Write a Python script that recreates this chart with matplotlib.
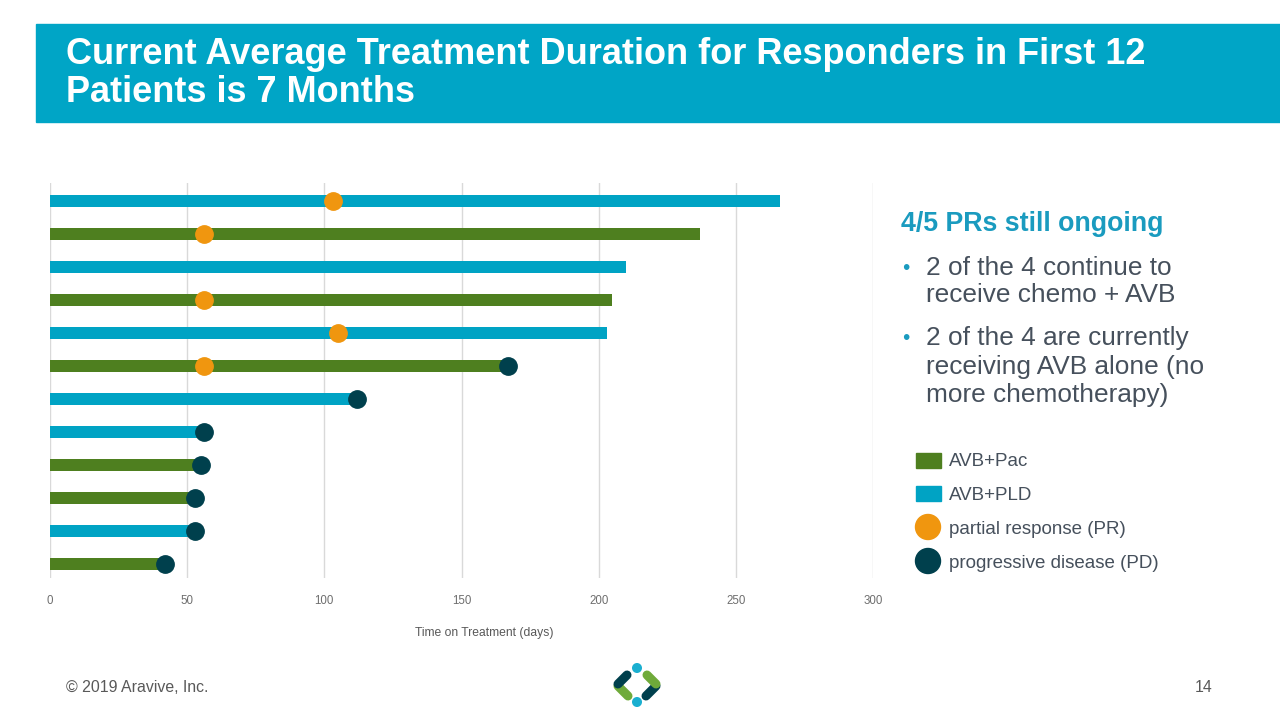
import matplotlib
matplotlib.use("Agg")
import matplotlib.pyplot as plt
from matplotlib.patches import Rectangle, Circle, Ellipse
import numpy as np

plt.rcParams['font.family'] = ['Liberation Sans', 'DejaVu Sans']

# ---------------- data (top bar first) ----------------
arms = ['PLD', 'Pac', 'PLD', 'Pac', 'PLD', 'Pac',
        'PLD', 'PLD', 'Pac', 'Pac', 'PLD', 'Pac']
days = [266, 237, 210, 205, 203, 167, 112, 56, 55, 53, 53, 42]
pr_day = [103, 56, None, 56, 105, 56, None, None, None, None, None, None]
pd_day = [None, None, None, None, None, 167, 112, 56, 55, 53, 53, 42]
xticks = [0, 50, 100, 150, 200, 250, 300]

PLD_C = '#00A3C4'
PAC_C = '#4E7F1F'
PR_C = '#F0960F'
PD_C = '#00404D'
TEAL = '#00A5C6'
TXT = '#46505C'

fig = plt.figure(figsize=(12.8, 7.2), dpi=100)

# ---------------- title bar ----------------
fig.patches.append(Rectangle((36 / 1280, 1 - 122 / 720), 1 - 36 / 1280, 98 / 720,
                             transform=fig.transFigure, color=TEAL, zorder=0))
fig.text(66 / 1280, 1 - 54 / 720, 'Current Average Treatment Duration for Responders in First 12',
         color='white', fontsize=26, fontweight='bold', va='center')
fig.text(66 / 1280, 1 - 93 / 720, 'Patients is 7 Months',
         color='white', fontsize=26, fontweight='bold', va='center')

# ---------------- chart ----------------
ax = fig.add_axes([50 / 1280, 1 - 578 / 720, 823 / 1280, 395 / 720])
rows = np.arange(len(days))
colors = [PLD_C if a == 'PLD' else PAC_C for a in arms]
ax.barh(rows, days, height=0.36, color=colors, zorder=2)
for i in rows:
    if pr_day[i] is not None:
        ax.plot(pr_day[i], i, 'o', color=PR_C, markersize=12.5, zorder=3)
    if pd_day[i] is not None:
        ax.plot(pd_day[i], i, 'o', color=PD_C, markersize=12.5, zorder=3)

ax.set_xlim(0, 300)
ax.set_ylim(11.42, -0.545)
ax.set_xticks(xticks)
ax.set_yticks([])
ax.grid(axis='x', color='#D9D9D9', linewidth=1, zorder=0)
for s in ax.spines.values():
    s.set_visible(False)
ax.tick_params(axis='x', length=0, labelsize=8.3, labelcolor='#6E6E6E', pad=12)
ax.set_xlabel('Time on Treatment (days)', fontsize=8.7, color='#595959')
ax.xaxis.set_label_coords(0.528, -0.125)

# ---------------- right-hand text ----------------
fig.text(901 / 1280, 1 - 224 / 720, '4/5 PRs still ongoing', color='#1A9BBF',
         fontsize=19.3, fontweight='bold', va='center')
bullets = [(268, '2 of the 4 continue to', True), (295, 'receive chemo + AVB', False),
           (338, '2 of the 4 are currently', True), (367, 'receiving AVB alone (no', False),
           (395, 'more chemotherapy)', False)]
for y, t, b in bullets:
    if b:
        fig.text(902 / 1280, 1 - y / 720, '•', color='#1A9BBF', fontsize=15, va='center')
    fig.text(926 / 1280, 1 - y / 720, t, color=TXT, fontsize=18.9, va='center')

# ---------------- legend ----------------
leg = [(460, 'AVB+Pac', PAC_C, 's'), (493, 'AVB+PLD', PLD_C, 's'),
       (527, 'partial response (PR)', PR_C, 'o'), (561, 'progressive disease (PD)', PD_C, 'o')]
for y, t, c, m in leg:
    yy = 1 - y / 720
    if m == 's':
        fig.patches.append(Rectangle((916 / 1280, yy - 7.5 / 720), 25 / 1280, 15 / 720,
                                     transform=fig.transFigure, color=c))
    else:
        fig.patches.append(Ellipse((928 / 1280, yy), 25 / 1280, 25 / 720,
                                   transform=fig.transFigure, color=c))
    fig.text(949 / 1280, yy - 2 / 720, t, color=TXT, fontsize=13.5, va='center')

# ---------------- footer ----------------
fig.text(66 / 1280, 1 - 688 / 720, '© 2019 Aravive, Inc.', color='#595959', fontsize=11.4, va='center')
fig.text(1213 / 1280, 1 - 688 / 720, '14', color='#595959', fontsize=11.4, va='center', ha='right')

# logo
lax = fig.add_axes([607 / 1280, 1 - 715 / 720, 60 / 1280, 60 / 720])
lax.set_xlim(-30, 30)
lax.set_ylim(-30, 30)
lax.set_aspect('equal')
lax.axis('off')
lax.add_patch(Circle((0, 17), 4.3, color='#1AAFD0'))
lax.add_patch(Circle((0, -17), 4.3, color='#1AAFD0'))
lax.plot([-19, -9], [-1, -11], color='#6FAA3A', lw=6.5, solid_capstyle='round')
lax.plot([-19, -10], [1, 10], color='#00404D', lw=6.5, solid_capstyle='round')
lax.plot([19, 9], [-1, -11], color='#00404D', lw=6.5, solid_capstyle='round')
lax.plot([19, 10], [1, 10], color='#6FAA3A', lw=6.5, solid_capstyle='round')

fig.savefig('out.png', dpi=100)
